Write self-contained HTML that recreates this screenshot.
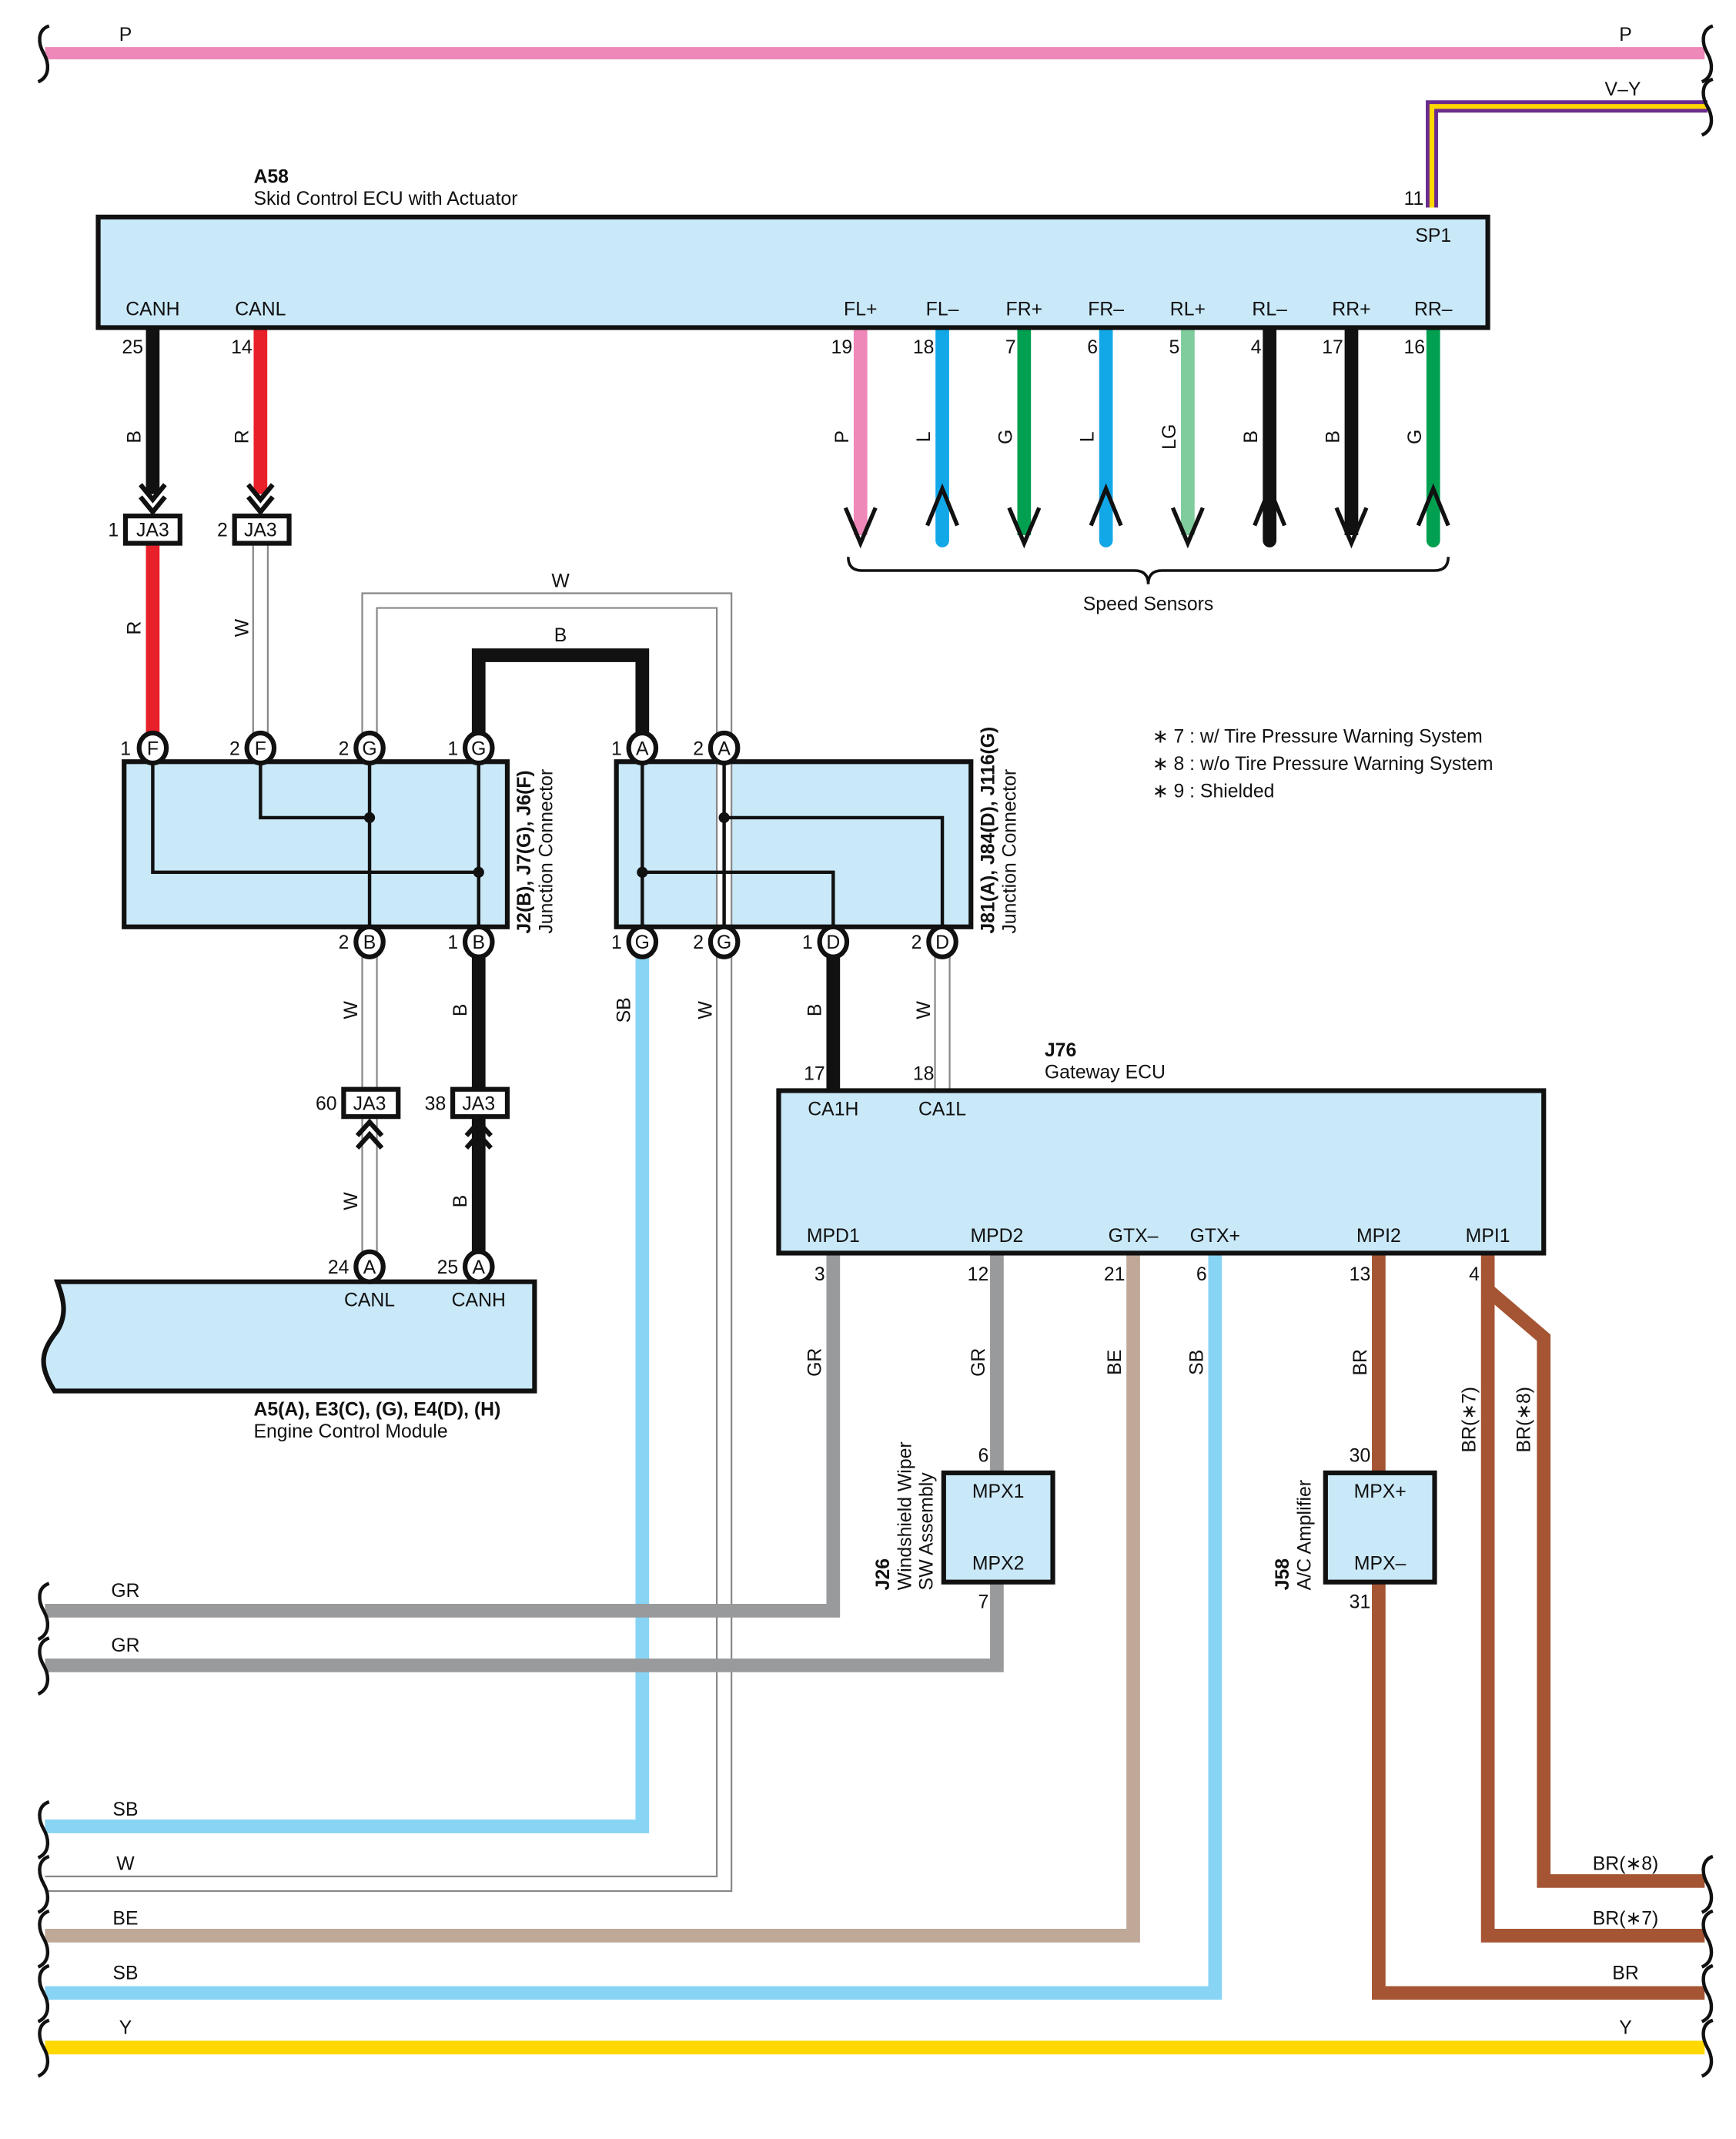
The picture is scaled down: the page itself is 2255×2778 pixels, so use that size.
<!DOCTYPE html>
<html><head><meta charset="utf-8"><style>
html,body{margin:0;padding:0;background:#fff}
svg{display:block}
text{font-family:"Liberation Sans",sans-serif;font-size:14px;fill:#111}
.b{font-weight:bold}
.m{text-anchor:middle}
</style></head><body>
<svg width="2255" height="2778" viewBox="0 0 1273 1567" preserveAspectRatio="none" xmlns="http://www.w3.org/2000/svg">
<defs>
<path id="br" d="M4,-20 C-5,-17 -4,-7 0,0 C4,7 5,17 -4,21" fill="none" stroke="#111" stroke-width="2.5"/>
</defs>
<!-- boxes behind -->
<rect x="91" y="558" width="281" height="121" fill="#c9e8f8"/>
<rect x="452" y="558" width="260" height="121" fill="#c9e8f8"/>
<g fill="none" stroke-linejoin="miter">
<line x1="33" y1="39" x2="1250" y2="39" stroke="#ee88b8" stroke-width="9"/>
<path d="M1050,152 V78 H1252" stroke="#6a2c8e" stroke-width="9"/>
<path d="M1050,152 V78 H1252" stroke="#ffd800" stroke-width="3.5"/>
<path d="M271,548 V440 H531 V1380 H33" stroke="#888" stroke-width="12"/>
<path d="M271,548 V440 H531 V1380 H33" stroke="#fff" stroke-width="9.5"/>
<path d="M351,548 V480 H471 V548" stroke="#111" stroke-width="10"/>
<path d="M471,690 V1338 H33" stroke="#88d4f5" stroke-width="10"/>
<line x1="112" y1="240" x2="112" y2="362" stroke="#111" stroke-width="10"/>
<line x1="112" y1="398" x2="112" y2="548" stroke="#e8202a" stroke-width="10"/>
<line x1="191" y1="240" x2="191" y2="362" stroke="#e8202a" stroke-width="10"/>
<line x1="191" y1="398" x2="191" y2="548" stroke="#888" stroke-width="12"/>
<line x1="191" y1="398" x2="191" y2="548" stroke="#fff" stroke-width="9.5"/>
<line x1="271" y1="690" x2="271" y2="928" stroke="#888" stroke-width="12"/>
<line x1="271" y1="690" x2="271" y2="928" stroke="#fff" stroke-width="9.5"/>
<line x1="351" y1="690" x2="351" y2="928" stroke="#111" stroke-width="10"/>
<line x1="611" y1="690" x2="611" y2="800" stroke="#111" stroke-width="10"/>
<line x1="691" y1="690" x2="691" y2="800" stroke="#888" stroke-width="12"/>
<line x1="691" y1="690" x2="691" y2="800" stroke="#fff" stroke-width="9.5"/>
<line x1="631" y1="240" x2="631" y2="392" stroke="#ee88b8" stroke-width="10"/>
<line x1="691" y1="240" x2="691" y2="396" stroke="#12a8e8" stroke-width="10" stroke-linecap="round"/>
<line x1="751" y1="240" x2="751" y2="392" stroke="#00a050" stroke-width="10"/>
<line x1="811" y1="240" x2="811" y2="396" stroke="#12a8e8" stroke-width="10" stroke-linecap="round"/>
<line x1="871" y1="240" x2="871" y2="392" stroke="#80cc9c" stroke-width="10"/>
<line x1="931" y1="240" x2="931" y2="396" stroke="#111" stroke-width="10" stroke-linecap="round"/>
<line x1="991" y1="240" x2="991" y2="392" stroke="#111" stroke-width="10"/>
<line x1="1051" y1="240" x2="1051" y2="396" stroke="#00a050" stroke-width="10" stroke-linecap="round"/>
<g stroke="#111" stroke-width="3">
<polyline points="620,372 631,398 642,372"/>
<polyline points="680,385 691,358 702,385"/>
<polyline points="740,372 751,398 762,372"/>
<polyline points="800,385 811,358 822,385"/>
<polyline points="860,372 871,398 882,372"/>
<polyline points="920,385 931,358 942,385"/>
<polyline points="980,372 991,398 1002,372"/>
<polyline points="1040,385 1051,358 1062,385"/>
</g>
<path d="M622,408 Q622,418 632,418 L832,418 Q842,418 842,428 Q842,418 852,418 L1052,418 Q1062,418 1062,408" stroke="#111" stroke-width="2"/>
<path d="M611,918 V1180 H33" stroke="#999a9c" stroke-width="10"/>
<path d="M731,918 V1080 M731,1158 V1220 H33" stroke="#999a9c" stroke-width="10"/>
<path d="M831,918 V1418 H33" stroke="#bfa898" stroke-width="10"/>
<path d="M891,918 V1460 H33" stroke="#88d4f5" stroke-width="10"/>
<path d="M1011,918 V1080 M1011,1158 V1460 H1250" stroke="#a55533" stroke-width="10"/>
<path d="M1091,918 V1418 H1250" stroke="#a55533" stroke-width="10"/>
<path d="M1091,945 L1132,980 V1378 H1250" stroke="#a55533" stroke-width="10"/>
<line x1="33" y1="1500" x2="1250" y2="1500" stroke="#ffd800" stroke-width="10"/>
</g>

<rect x="72" y="159" width="1019" height="81" fill="#c9e8f8" stroke="#111" stroke-width="3.5"/>
<g stroke="#111" stroke-width="3.5" fill="none">
<polyline points="103,355 112,366 121,355"/><polyline points="103,364 112,375 121,364"/>
<polyline points="182,355 191,366 200,355"/><polyline points="182,364 191,375 200,364"/>
<polyline points="262,832 271,822 280,832"/><polyline points="262,841 271,831 280,841"/>
<polyline points="342,832 351,822 360,832"/><polyline points="342,841 351,831 360,841"/>
</g>
<g fill="#fff" stroke="#111" stroke-width="3.5">
<rect x="92" y="378" width="40" height="20"/><rect x="172" y="378" width="40" height="20"/>
<rect x="252" y="798" width="40" height="20"/><rect x="332" y="798" width="40" height="20"/>
</g>
<rect x="91" y="558" width="281" height="121" fill="none" stroke="#111" stroke-width="3.5"/>
<g stroke="#111" stroke-width="2.5" fill="none">
<path d="M112,558 V639 H351"/><path d="M191,558 V599 H271"/>
<line x1="271" y1="558" x2="271" y2="679"/><line x1="351" y1="558" x2="351" y2="679"/>
<path d="M471,558 V679"/><path d="M531,558 V679"/>
<path d="M471,639 H611 V679"/><path d="M531,599 H691 V679"/>
</g>
<g fill="#111"><circle cx="271" cy="599" r="4"/><circle cx="351" cy="639" r="4"/><circle cx="471" cy="639" r="4"/><circle cx="531" cy="599" r="4"/></g>
<rect x="452" y="558" width="260" height="121" fill="none" stroke="#111" stroke-width="3.5"/>
<rect x="571" y="799" width="561" height="119" fill="#c9e8f8" stroke="#111" stroke-width="3.5"/>
<rect x="692" y="1079" width="80" height="80" fill="#c9e8f8" stroke="#111" stroke-width="3.5"/>
<rect x="972" y="1079" width="80" height="80" fill="#c9e8f8" stroke="#111" stroke-width="3.5"/>
<path d="M42,939 H392 V1019 H40 C28,1000 30,990 42,975 C50,962 46,950 42,939 Z" fill="#c9e8f8" stroke="#111" stroke-width="3.5"/>

<g fill="#fff" stroke="#111" stroke-width="3.5">
<ellipse cx="112" cy="548" rx="10" ry="11"/><ellipse cx="191" cy="548" rx="10" ry="11"/>
<ellipse cx="271" cy="548" rx="10" ry="11"/><ellipse cx="351" cy="548" rx="10" ry="11"/>
<ellipse cx="271" cy="690" rx="10" ry="11"/><ellipse cx="351" cy="690" rx="10" ry="11"/>
<ellipse cx="471" cy="548" rx="10" ry="11"/><ellipse cx="531" cy="548" rx="10" ry="11"/>
<ellipse cx="471" cy="690" rx="10" ry="11"/><ellipse cx="531" cy="690" rx="10" ry="11"/>
<ellipse cx="611" cy="690" rx="10" ry="11"/><ellipse cx="691" cy="690" rx="10" ry="11"/>
<ellipse cx="271" cy="928" rx="10" ry="11"/><ellipse cx="351" cy="928" rx="10" ry="11"/>
</g>
<g font-size="13">
<text x="112" y="553" class="m">F</text><text x="191" y="553" class="m">F</text>
<text x="271" y="553" class="m">G</text><text x="351" y="553" class="m">G</text>
<text x="271" y="695" class="m">B</text><text x="351" y="695" class="m">B</text>
<text x="471" y="553" class="m">A</text><text x="531" y="553" class="m">A</text>
<text x="471" y="695" class="m">G</text><text x="531" y="695" class="m">G</text>
<text x="611" y="695" class="m">D</text><text x="691" y="695" class="m">D</text>
<text x="271" y="933" class="m">A</text><text x="351" y="933" class="m">A</text>
<text x="112" y="393" class="m">JA3</text><text x="191" y="393" class="m">JA3</text>
<text x="271" y="813" class="m">JA3</text><text x="351" y="813" class="m">JA3</text>
</g>
<g text-anchor="end">
<text x="96" y="553">1</text><text x="176" y="553">2</text><text x="256" y="553">2</text><text x="336" y="553">1</text>
<text x="256" y="695">2</text><text x="336" y="695">1</text>
<text x="456" y="553">1</text><text x="516" y="553">2</text>
<text x="456" y="695">1</text><text x="516" y="695">2</text><text x="596" y="695">1</text><text x="676" y="695">2</text>
<text x="87" y="393">1</text><text x="167" y="393">2</text>
<text x="247" y="813">60</text><text x="327" y="813">38</text>
<text x="256" y="933">24</text><text x="336" y="933">25</text>
<text x="105" y="259">25</text><text x="185" y="259">14</text>
<text x="625" y="259">19</text><text x="685" y="259">18</text><text x="745" y="259">7</text><text x="805" y="259">6</text>
<text x="865" y="259">5</text><text x="925" y="259">4</text><text x="985" y="259">17</text><text x="1045" y="259">16</text>
<text x="1044" y="150">11</text>
<text x="605" y="791">17</text><text x="685" y="791">18</text>
<text x="605" y="938">3</text><text x="725" y="938">12</text><text x="825" y="938">21</text><text x="885" y="938">6</text>
<text x="1005" y="938">13</text><text x="1085" y="938">4</text>
<text x="725" y="1071">6</text><text x="725" y="1178">7</text>
<text x="1005" y="1071">30</text><text x="1005" y="1178">31</text>
</g>
<text x="186" y="134" class="b">A58</text>
<text x="186" y="150">Skid Control ECU with Actuator</text>
<text x="1051" y="177" class="m">SP1</text>
<g>
<text x="112" y="231" class="m">CANH</text><text x="191" y="231" class="m">CANL</text>
<text x="631" y="231" class="m">FL+</text><text x="691" y="231" class="m">FL–</text>
<text x="751" y="231" class="m">FR+</text><text x="811" y="231" class="m">FR–</text>
<text x="871" y="231" class="m">RL+</text><text x="931" y="231" class="m">RL–</text>
<text x="991" y="231" class="m">RR+</text><text x="1051" y="231" class="m">RR–</text>
<text x="842" y="447" class="m">Speed Sensors</text>
<text x="411" y="430" class="m">W</text><text x="411" y="470" class="m">B</text>
<text x="611" y="817" class="m">CA1H</text><text x="691" y="817" class="m">CA1L</text>
<text x="611" y="910" class="m">MPD1</text><text x="731" y="910" class="m">MPD2</text>
<text x="831" y="910" class="m">GTX–</text><text x="891" y="910" class="m">GTX+</text>
<text x="1011" y="910" class="m">MPI2</text><text x="1091" y="910" class="m">MPI1</text>
<text x="732" y="1097" class="m">MPX1</text><text x="732" y="1150" class="m">MPX2</text>
<text x="1012" y="1097" class="m">MPX+</text><text x="1012" y="1150" class="m">MPX–</text>
<text x="271" y="957" class="m">CANL</text><text x="351" y="957" class="m">CANH</text>
<text x="92" y="30" class="m">P</text><text x="1192" y="30" class="m">P</text>
<text x="1190" y="70" class="m">V–Y</text>
<text x="92" y="1170" class="m">GR</text><text x="92" y="1210" class="m">GR</text>
<text x="92" y="1330" class="m">SB</text><text x="92" y="1370" class="m">W</text>
<text x="92" y="1410" class="m">BE</text><text x="92" y="1450" class="m">SB</text>
<text x="92" y="1490" class="m">Y</text><text x="1192" y="1490" class="m">Y</text>
<text x="1192" y="1370" class="m">BR(∗8)</text><text x="1192" y="1410" class="m">BR(∗7)</text>
<text x="1192" y="1450" class="m">BR</text>
</g>
<text x="766" y="774" class="b">J76</text>
<text x="766" y="790">Gateway ECU</text>
<text x="186" y="1037" class="b">A5(A), E3(C), (G), E4(D), (H)</text>
<text x="186" y="1053">Engine Control Module</text>
<text x="845" y="544">∗ 7 : w/ Tire Pressure Warning System</text>
<text x="845" y="564">∗ 8 : w/o Tire Pressure Warning System</text>
<text x="845" y="584">∗ 9 : Shielded</text>
<g>
<text class="m" transform="translate(103,320) rotate(-90)">B</text>
<text class="m" transform="translate(182,320) rotate(-90)">R</text>
<text class="m" transform="translate(103,460) rotate(-90)">R</text>
<text class="m" transform="translate(182,460) rotate(-90)">W</text>
<text class="m" transform="translate(622,320) rotate(-90)">P</text>
<text class="m" transform="translate(682,320) rotate(-90)">L</text>
<text class="m" transform="translate(742,320) rotate(-90)">G</text>
<text class="m" transform="translate(802,320) rotate(-90)">L</text>
<text class="m" transform="translate(862,320) rotate(-90)">LG</text>
<text class="m" transform="translate(922,320) rotate(-90)">B</text>
<text class="m" transform="translate(982,320) rotate(-90)">B</text>
<text class="m" transform="translate(1042,320) rotate(-90)">G</text>
<text class="m" transform="translate(262,740) rotate(-90)">W</text>
<text class="m" transform="translate(342,740) rotate(-90)">B</text>
<text class="m" transform="translate(262,880) rotate(-90)">W</text>
<text class="m" transform="translate(342,880) rotate(-90)">B</text>
<text class="m" transform="translate(462,740) rotate(-90)">SB</text>
<text class="m" transform="translate(522,740) rotate(-90)">W</text>
<text class="m" transform="translate(602,740) rotate(-90)">B</text>
<text class="m" transform="translate(682,740) rotate(-90)">W</text>
<text class="m" transform="translate(602,998) rotate(-90)">GR</text>
<text class="m" transform="translate(722,998) rotate(-90)">GR</text>
<text class="m" transform="translate(822,998) rotate(-90)">BE</text>
<text class="m" transform="translate(882,998) rotate(-90)">SB</text>
<text class="m" transform="translate(1002,998) rotate(-90)">BR</text>
<text class="m" transform="translate(1082,1040) rotate(-90)">BR(∗7)</text>
<text class="m" transform="translate(1122,1040) rotate(-90)">BR(∗8)</text>
</g>
<text transform="translate(389,684) rotate(-90)" class="b">J2(B), J7(G), J6(F)</text>
<text transform="translate(405,684) rotate(-90)">Junction Connector</text>
<text transform="translate(729,684) rotate(-90)" class="b">J81(A), J84(D), J116(G)</text>
<text transform="translate(745,684) rotate(-90)">Junction Connector</text>
<text transform="translate(652,1165) rotate(-90)" class="b">J26</text>
<text transform="translate(668,1165) rotate(-90)">Windshield Wiper</text>
<text transform="translate(684,1165) rotate(-90)">SW Assembly</text>
<text transform="translate(945,1165) rotate(-90)" class="b">J58</text>
<text transform="translate(961,1165) rotate(-90)">A/C Amplifier</text>
<g>
<use href="#br" x="32" y="39"/><use href="#br" x="1252" y="39"/><use href="#br" x="1252" y="78"/>
<use href="#br" x="32" y="1180"/><use href="#br" x="32" y="1220"/><use href="#br" x="32" y="1340"/>
<use href="#br" x="32" y="1380"/><use href="#br" x="32" y="1420"/><use href="#br" x="32" y="1460"/><use href="#br" x="32" y="1500"/>
<use href="#br" x="1252" y="1380"/><use href="#br" x="1252" y="1420"/><use href="#br" x="1252" y="1460"/><use href="#br" x="1252" y="1500"/>
</g>
</svg>
</body></html>
